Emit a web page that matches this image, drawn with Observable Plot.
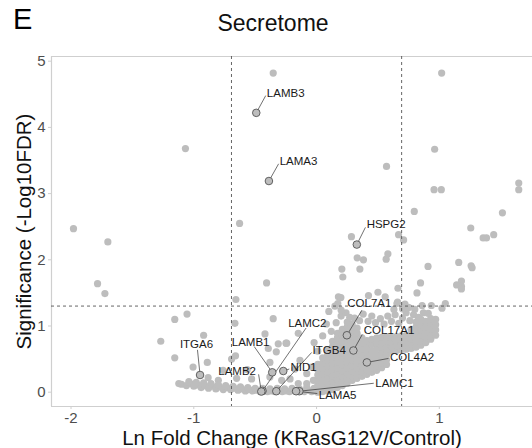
<!DOCTYPE html>
<html><head><meta charset="utf-8">
<script src="https://cdn.jsdelivr.net/npm/d3@7"></script>
<script src="https://cdn.jsdelivr.net/npm/@observablehq/plot@0.6"></script>
<style>
body{margin:0;background:#fff;font-family:"Liberation Sans",Arial,Helvetica,sans-serif;overflow:hidden;}
#head{position:relative;height:44px;width:532px;}
#panel{position:absolute;left:13px;top:3px;font-size:29px;color:#000;}
#title{position:absolute;left:0;width:546px;text-align:center;top:10px;font-size:23px;color:#111;}
#chart svg{display:block;}
</style></head><body>
<div id="head"><div id="panel">E</div><div id="title">Secretome</div></div>
<div id="chart"></div>
<script>
// ---- data ----
const xTicks = [-2, -1, 0, 1];
const yTicks = [0, 1, 2, 3, 4, 5];
const xDomain = [-2.159, 1.759];
const yDomain = [-0.216, 5.071];
const fcCut = [-0.693, 0.693];
const sigCut = [1.301];

// isolated / sparse proteins [ln fold change, -log10 FDR]
const sparsePts = [
  [-1.98,2.47],[-1.70,2.27],[-1.068,3.68],[-0.627,2.55],[-0.353,4.82],[1.019,4.82],[0.962,3.67],
  [0.570,3.41],[0.957,3.06],[1.016,3.06],[1.647,3.16],[1.647,3.06],[0.796,2.73],[1.514,2.71],
  [1.256,2.48],[1.357,2.33],[1.384,2.33],[1.443,2.38],[0.284,2.35],[0.668,2.38],[0.709,2.30],
  [0.331,2.03],[0.382,2.00],[0.581,2.09],[0.567,2.01],[0.206,1.86],[0.214,1.74],[0.353,1.86],
  [1.158,1.96],[1.259,1.91],[1.267,1.88],[0.908,1.90],[0.847,1.65],[0.818,1.50],[1.141,1.62],
  [1.18,1.68],[1.18,1.60],[1.18,1.56],[0.663,1.57],[0.178,1.44],[0.423,1.46],[0.50,1.51],
  [0.559,1.44],[0.655,1.34],[0.935,1.31],[1.049,1.34],[1.022,1.27],[0.198,1.43],[0.173,1.34],
  [-1.784,1.64],[-1.724,1.49],[-0.407,1.65],[-0.657,1.40],[-1.055,1.18],[-1.155,1.10],
  [-1.269,0.77],[-0.92,0.86],[-0.665,1.04],[-0.353,1.11],[-0.42,0.88],[-0.249,0.74],
  [-0.149,0.89],[-1.155,0.52],[-0.89,0.45],[-0.66,0.55],[-0.328,0.61],[-1.122,0.13]
];

// low-significance points left of zero
const leftPts = [
  [-1.006,0.38],[-0.761,0.33],[-0.651,0.21],[-0.80,0.18],[-0.883,0.22],[-0.565,0.34],[-0.529,0.20],
  [-0.692,0.50],[-0.393,0.66],[-0.312,0.73],[-0.243,0.74],[-0.38,0.45],[-0.38,0.23],[-0.284,0.18],
  [-0.216,0.20],[-0.176,0.35],[-0.135,0.48],[-0.08,0.28],[-0.04,0.38],[-0.149,0.13],[-0.08,0.13],
  [-0.026,0.18],
  [-1.10,0.12],[-1.06,0.10],[-1.03,0.13],[-1.00,0.09],[-0.97,0.11],[-0.94,0.07],[-0.91,0.10],
  [-0.88,0.06],[-0.85,0.09],[-0.82,0.05],[-0.79,0.08],[-0.76,0.04],[-0.73,0.07],[-0.70,0.04],
  [-0.67,0.06],[-0.64,0.03],[-0.61,0.05],[-0.58,0.02],[-0.55,0.04],[-0.52,0.02],[-0.49,0.03],
  [-0.46,0.01],[-0.43,0.03],[-0.40,0.01],[-0.37,0.02],[-0.34,0.01],[-0.31,0.03],[-0.28,0.01],
  [-0.25,0.02],[-0.22,0.01],[-0.19,0.03],[-0.16,0.01],[-0.13,0.02],[-0.10,0.01],[-0.07,0.03],
  [-0.04,0.01],[-0.01,0.02],
  [-1.04,0.16],[-0.98,0.15],[-0.92,0.14],[-0.86,0.13],[-0.80,0.11],[-0.74,0.10],[-0.68,0.09],
  [-0.62,0.08],[-0.56,0.07],[-0.50,0.06],[-0.44,0.06],[-0.38,0.05],[-0.32,0.06],[-0.26,0.05],
  [-0.20,0.06],[-0.14,0.05],[-0.08,0.07],[-0.02,0.06]
];

// dense cloud right of zero
const cloudPts = [
  [0.01,0.00],[0.01,0.05],[0.01,0.11],[0.01,0.18],[0.01,0.26],[0.01,0.34],[0.01,0.42],
  [0.05,0.01],[0.05,0.07],[0.05,0.13],[0.05,0.20],[0.05,0.28],[0.05,0.36],[0.05,0.44],[0.05,0.52],
  [0.09,0.02],[0.09,0.08],[0.09,0.15],[0.09,0.23],[0.09,0.31],[0.09,0.39],[0.09,0.48],[0.09,0.57],[0.09,0.64],
  [0.13,0.04],[0.13,0.10],[0.13,0.17],[0.13,0.25],[0.13,0.33],[0.13,0.42],[0.13,0.51],[0.13,0.60],[0.13,0.69],[0.13,0.77],
  [0.17,0.07],[0.17,0.13],[0.17,0.20],[0.17,0.28],[0.17,0.37],[0.17,0.46],[0.17,0.55],[0.17,0.64],[0.17,0.73],[0.17,0.82],[0.17,0.89],
  [0.21,0.10],[0.21,0.16],[0.21,0.24],[0.21,0.32],[0.21,0.41],[0.21,0.50],[0.21,0.59],[0.21,0.68],[0.21,0.77],[0.21,0.86],[0.21,0.95],
  [0.25,0.14],[0.25,0.20],[0.25,0.28],[0.25,0.36],[0.25,0.45],[0.25,0.54],[0.25,0.63],[0.25,0.72],[0.25,0.81],[0.25,0.90],[0.25,0.99],[0.25,1.06],
  [0.29,0.18],[0.29,0.24],[0.29,0.32],[0.29,0.40],[0.29,0.49],[0.29,0.58],[0.29,0.67],[0.29,0.76],[0.29,0.85],[0.29,0.94],[0.29,1.03],
  [0.33,0.21],[0.33,0.28],[0.33,0.36],[0.33,0.44],[0.33,0.53],[0.33,0.62],[0.33,0.71],[0.33,0.80],[0.33,0.89],[0.33,0.97],
  [0.37,0.24],[0.37,0.31],[0.37,0.39],[0.37,0.47],[0.37,0.56],[0.37,0.65],[0.37,0.74],[0.37,0.82],
  [0.41,0.27],[0.41,0.34],[0.41,0.42],[0.41,0.51],[0.41,0.60],[0.41,0.69],[0.41,0.78],
  [0.45,0.30],[0.45,0.37],[0.45,0.45],[0.45,0.54],[0.45,0.63],[0.45,0.72],[0.45,0.80],
  [0.49,0.33],[0.49,0.40],[0.49,0.48],[0.49,0.57],[0.49,0.66],[0.49,0.74],[0.49,0.82],
  [0.53,0.37],[0.53,0.44],[0.53,0.52],[0.53,0.60],[0.53,0.68],[0.53,0.76],[0.53,0.83],
  [0.57,0.42],[0.57,0.49],[0.57,0.56],[0.57,0.63],[0.57,0.70],[0.57,0.77],[0.57,0.84],
  [0.61,0.62],[0.61,0.69],[0.61,0.76],[0.61,0.83],
  [0.65,0.63],[0.65,0.70],[0.65,0.77],[0.65,0.84],
  [0.69,0.64],[0.69,0.71],[0.69,0.78],[0.69,0.85],
  [0.73,0.65],[0.73,0.72],[0.73,0.79],[0.73,0.86],
  [0.77,0.66],[0.77,0.73],[0.77,0.80],[0.77,0.87],[0.77,0.95],
  [0.81,0.68],[0.81,0.75],[0.81,0.82],[0.81,0.90],[0.81,0.98],[0.81,1.06],
  [0.85,0.71],[0.85,0.78],[0.85,0.86],[0.85,0.94],[0.85,1.02],[0.85,1.10],
  [0.89,0.75],[0.89,0.83],[0.89,0.91],[0.89,0.99],[0.89,1.07],
  [0.93,0.80],[0.93,0.88],[0.93,0.96],[0.93,1.04],[0.93,1.11],
  [0.97,0.86],[0.97,0.94],[0.97,1.02],[0.97,1.10],
  [0.12,0.92],[0.16,1.05],[0.20,1.15],[0.24,1.20],[0.27,1.13],[0.31,1.12],[0.35,1.08],[0.38,1.18],
  [0.42,1.07],[0.45,1.15],[0.48,1.05],[0.52,1.11],[0.55,1.03],[0.58,1.15],[0.61,1.07],[0.64,1.17],
  [0.67,1.04],[0.70,1.12],[0.73,1.20],[0.76,1.08],[0.79,1.17],[0.83,1.13],[0.87,1.20],[0.91,1.19],
  [0.63,1.25],[0.70,1.26],[0.75,1.28],[0.80,1.25],[0.20,1.24],[0.15,1.30],[0.10,1.22],[0.05,0.85],
  [0.08,1.03],[0.01,0.62],[-0.02,0.75],[0.66,1.36],[0.72,1.33],[0.86,1.31]
];

// highlighted genes
const genes    = ["LAMB3","LAMA3","HSPG2","COL7A1","COL17A1","COL4A2","LAMC1","LAMA5","NID1","ITGB4","LAMC2","LAMB1","LAMB2","ITGA6"];
const geneFC   = [-0.491,-0.388, 0.328, 0.247, 0.300, 0.410,-0.140,-0.167,-0.271,-0.328,-0.440,-0.361,-0.450,-0.949];
const geneSig  = [ 4.22,  3.19,  2.23,  0.86,  0.63,  0.45,  0.015, 0.015, 0.32,  0.015, 0.02,  0.30,  0.01,  0.26];
// label placement (repelled label position) and leader end
const labFC    = [-0.405,-0.300, 0.408, 0.430, 0.385, 0.598, 0.478, 0.018,-0.212,-0.032,-0.075,-0.537,-0.647,-0.978];
const labSig   = [ 4.52,  3.49,  2.53,  1.35,  0.93,  0.53,  0.14, -0.045, 0.37,  0.63,  1.04,  0.75,  0.31,  0.72];
const labAnch  = ["start","start","start","middle","start","start","start","start","start","start","middle","middle","middle","middle"];
const segFC    = [-0.414,-0.309, 0.398, 0.370, 0.372, 0.586, 0.466, 0.006,-0.222,-0.040,-0.085,-0.508,-0.472,-0.970];
const segSig   = [ 4.48,  3.45,  2.49,  1.24,  0.87,  0.51,  0.135,-0.02,  0.35,  0.60,  0.97,  0.69,  0.27,  0.64];

// ---- build ----
const toRows = arr => arr.map(([fc, sig]) => ({fc, sig}));
const bg = [...toRows(sparsePts), ...toRows(leftPts), ...toRows(cloudPts)];
const hl = genes.map((g, i) => ({g, fc: geneFC[i], sig: geneSig[i], lx: labFC[i], ly: labSig[i], a: labAnch[i], sx: segFC[i], sy: segSig[i]}));

const lineCol = "#cfcfcf";
const fnt = "Liberation Sans, Arial, Helvetica, sans-serif";

const chart = Plot.plot({
  width: 532, height: 404,
  marginLeft: 51, marginRight: 0, marginTop: 12, marginBottom: 42,
  x: {domain: xDomain},
  y: {domain: yDomain},
  style: {fontFamily: fnt, background: "#fff", overflow: "visible"},
  marks: [
    Plot.ruleY([yDomain[0]], {stroke: lineCol, strokeWidth: 1.2}),
    Plot.ruleY([yDomain[1]], {stroke: lineCol, strokeWidth: 1.2}),
    Plot.ruleX([xDomain[0]], {stroke: lineCol, strokeWidth: 1.2}),
    Plot.axisX({ticks: xTicks, tickSize: 3, tickPadding: 3, stroke: lineCol, fill: "#4d4d4d", fontSize: 15, label: null, tickFormat: d => String(d)}),
    Plot.axisY({ticks: yTicks, tickSize: 3, tickPadding: 3, stroke: lineCol, fill: "#4d4d4d", fontSize: 15, label: null, tickFormat: d => String(d)}),
    Plot.dot(bg, {x: "fc", y: "sig", r: 3.6, fill: "#bdbdbd", stroke: "none"}),
    Plot.ruleX(fcCut, {stroke: "#555", strokeWidth: 0.9, strokeDasharray: "3,3"}),
    Plot.ruleY(sigCut, {stroke: "#555", strokeWidth: 0.9, strokeDasharray: "3,3"}),
    Plot.link(hl, {x1: "fc", y1: "sig", x2: "sx", y2: "sy", stroke: "#333", strokeWidth: 0.7}),
    Plot.dot(hl, {x: "fc", y: "sig", r: 3.8, fill: "#bdbdbd", stroke: "#555", strokeWidth: 0.9}),
    Plot.text(hl.filter(d => d.a === "start"), {x: "lx", y: "ly", text: "g", textAnchor: "start", lineAnchor: "middle", fontSize: 11.5, fill: "#1a1a1a"}),
    Plot.text(hl.filter(d => d.a === "middle"), {x: "lx", y: "ly", text: "g", textAnchor: "middle", lineAnchor: "middle", fontSize: 11.5, fill: "#1a1a1a"}),
    Plot.text(["Ln Fold Change (KRasG12V/Control)"], {text: d => d, frameAnchor: "bottom", textAnchor: "middle", dy: 32, lineAnchor: "middle", fontSize: 20.5, fill: "#111"}),
    Plot.text(["Significance (-Log10FDR)"], {text: d => d, frameAnchor: "left", textAnchor: "middle", dx: -27, rotate: -90, lineAnchor: "middle", fontSize: 20.5, fill: "#111"})
  ]
});
document.getElementById("chart").appendChild(chart);
</script>
</body></html>
